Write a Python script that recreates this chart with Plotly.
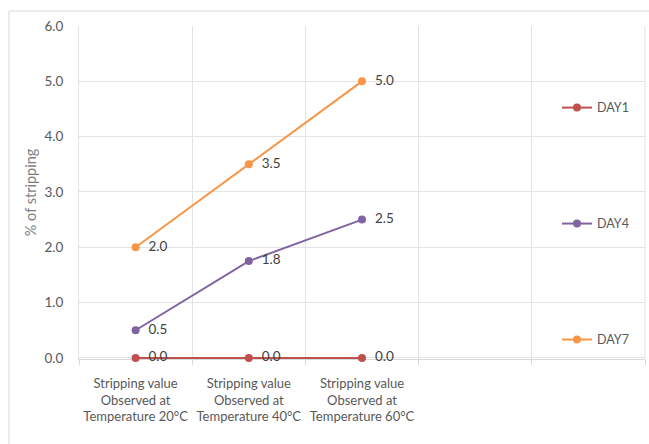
import plotly.graph_objects as go

# Categories along the x axis (two trailing empty slots keep the grid columns)
categories = [
    "Stripping value<br>Observed at<br>Temperature 20°C",
    "Stripping value<br>Observed at<br>Temperature 40°C",
    "Stripping value<br>Observed at<br>Temperature 60°C",
]
empty_slots = [" ", "  "]

series_names = ["DAY1", "DAY4", "DAY7"]
day1 = [0.0, 0.0, 0.0]
day4 = [0.5, 1.75, 2.5]
day7 = [2.0, 3.5, 5.0]
colors = ["#C0504D", "#8064A2", "#F79646"]

y_ticks = [0, 1, 2, 3, 4, 5, 6]

FONT = "Lato"
Y_MIN, Y_MAX = -0.02, 6.0
PLOT_TOP, ZERO_PX = 26, 358
px_per_unit = (ZERO_PX - PLOT_TOP) / Y_MAX
plot_h = (Y_MAX - Y_MIN) * px_per_unit
bottom_margin = 444 - PLOT_TOP - plot_h

fig = go.Figure()

legend_ids = ["legend", "legend2", "legend3"]
for name, vals, col, lg in zip(series_names, [day1, day4, day7], colors, legend_ids):
    fig.add_trace(go.Scatter(
        x=categories, y=vals, name=name,
        mode="lines+markers+text",
        line=dict(color=col, width=2),
        marker=dict(color=col, size=8),
        texttemplate="  %{y:.1f}",
        textposition="middle right",
        textfont=dict(family=FONT, size=13.5, color="#404040"),
        cliponaxis=False,
        legend=lg,
    ))

def paper_y(px):
    return (444 - bottom_margin - px) / plot_h

legend_common = dict(
    x=0.8445, xanchor="left", yanchor="middle",
    bgcolor="rgba(0,0,0,0)",
    font=dict(family=FONT, size=12.5, color="#595959"),
    itemwidth=30,
)

fig.update_layout(
    width=649, height=444,
    margin=dict(l=79, r=4, t=PLOT_TOP, b=bottom_margin, autoexpand=False),
    paper_bgcolor="white", plot_bgcolor="white",
    font=dict(family=FONT, color="#595959"),
    showlegend=True,
    legend=dict(y=paper_y(108), **legend_common),
    legend2=dict(y=paper_y(224), **legend_common),
    legend3=dict(y=paper_y(340), **legend_common),
    xaxis=dict(
        type="category",
        categoryorder="array",
        categoryarray=categories + empty_slots,
        range=[-0.5, 4.5],
        tickson="boundaries",
        ticks="outside", ticklen=5, tickcolor="#d9d9d9",
        showgrid=True, gridcolor="#e3e3e3", gridwidth=1,
        showline=True, linecolor="#d9d9d9", linewidth=1,
        layer="below traces",
        tickangle=0,
        automargin=False,
        ticklabelstandoff=12,
        tickfont=dict(family=FONT, size=13, color="#595959"),
        fixedrange=True,
    ),
    yaxis=dict(
        range=[Y_MIN, Y_MAX],
        tickvals=y_ticks,
        tickformat=".1f",
        showgrid=True, gridcolor="#e3e3e3", gridwidth=1,
        zeroline=False,
        showline=True, linecolor="#e3e3e3",
        layer="below traces",
        automargin=False,
        ticks="", ticklabelstandoff=12,
        tickfont=dict(family=FONT, size=13.5, color="#595959"),
        title=dict(text="% of stripping", font=dict(family=FONT, size=14.5, color="#7f7f7f"), standoff=4),
        fixedrange=True,
    ),
    shapes=[
        dict(type="rect", xref="paper", yref="paper",
             x0=-0.1237, x1=1.2, y0=-0.5, y1=paper_y(11),
             line=dict(color="#d9d9d9", width=1), fillcolor="rgba(0,0,0,0)",
             layer="below"),
        # right edge of the plot area grid
        dict(type="line", xref="paper", yref="paper",
             x0=1, x1=1, y0=0, y1=1,
             line=dict(color="#e3e3e3", width=1), layer="below"),
    ],
)

fig.write_html("out.html")
